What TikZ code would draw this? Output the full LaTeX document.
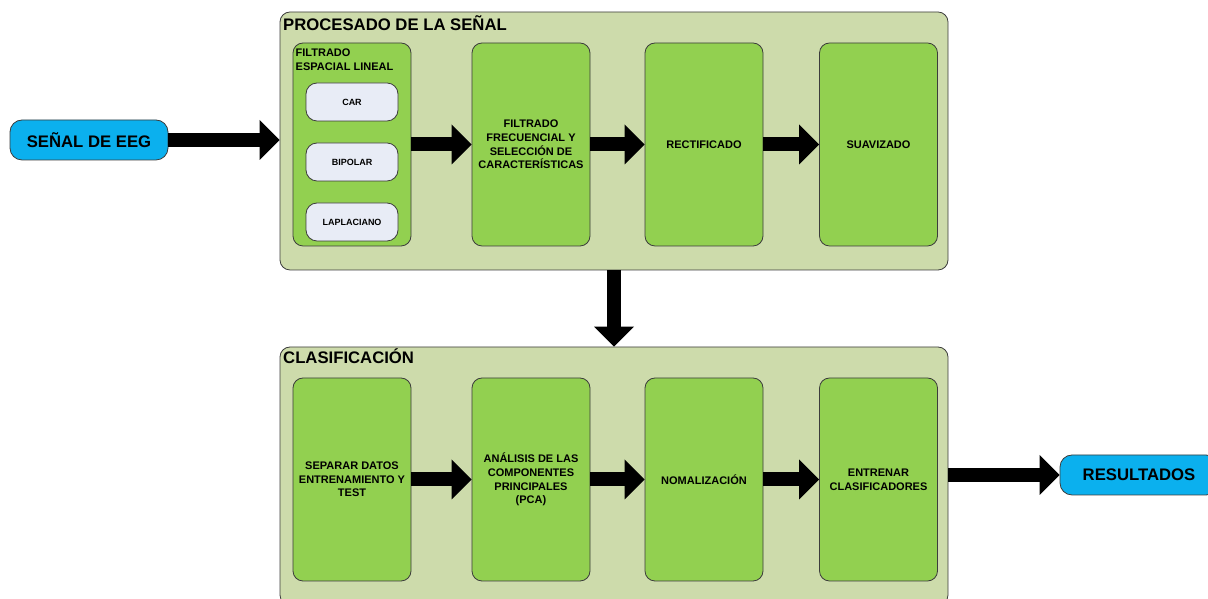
\documentclass[tikz,border=0pt]{standalone}
\usepackage{fontspec}
\setmainfont{Liberation Sans}
\usetikzlibrary{arrows.meta}
\definecolor{PanelFill}{HTML}{CDDBAB}
\definecolor{StageGreen}{HTML}{92D050}
\definecolor{IoBlue}{HTML}{0BB0EE}
\definecolor{SubFill}{HTML}{E8ECF6}
\definecolor{Edge}{HTML}{3C3C3C}
\begin{document}
\begin{tikzpicture}[x=1pt,y=1pt,
  panel/.style={draw=Edge,fill=PanelFill,line width=.8pt,rounded corners=10pt,minimum width=668pt,minimum height=258pt,inner sep=0pt},
  stage/.style={draw=Edge,fill=StageGreen,line width=.8pt,rounded corners=10pt,minimum width=118pt,minimum height=203pt,inner sep=2pt,align=center,font=\fontsize{11}{13.7}\selectfont\bfseries},
  sub/.style={draw=Edge,fill=SubFill,line width=.8pt,rounded corners=11pt,minimum width=92pt,minimum height=38pt,inner sep=1pt,font=\fontsize{9}{11}\selectfont\bfseries},
  io/.style={draw=Edge,fill=IoBlue,line width=.8pt,rounded corners=12pt,minimum width=158pt,minimum height=40pt,inner sep=1pt,font=\fontsize{16.7}{20}\selectfont\bfseries},
  heading/.style={anchor=base west,inner sep=0pt,font=\fontsize{16.7}{20}\selectfont\bfseries},
  flow/.style={line width=14pt,-{Triangle[length=20pt,width=40pt,line width=0pt]}}]
\useasboundingbox (0,0) rectangle (1208,599);
% panels
\node[panel] (proc) at (614,458) {};
\node[panel] (clas) at (614,123) {};
\node[heading] (proctitle) at (283,568) {PROCESADO DE LA SEÑAL};
\node[heading] (clastitle) at (283,235) {CLASIFICACIÓN};
% signal processing stages
\node[stage] (fesp) at (352,454.5) {};
\node[anchor=north west,inner sep=0pt,align=left,font=\fontsize{11}{14}\selectfont\bfseries] (fesplabel) at (295.5,550) {FILTRADO\\ESPACIAL LINEAL};
\node[sub] (car) at (352,497) {CAR};
\node[sub] (bip) at (352,437) {BIPOLAR};
\node[sub] (lap) at (352,377) {LAPLACIANO};
\node[stage] (ffrec) at (531,454.5) {FILTRADO\\FRECUENCIAL Y\\SELECCIÓN DE\\CARACTERÍSTICAS};
\node[stage] (rect) at (704,454.5) {RECTIFICADO};
\node[stage] (suav) at (878.5,454.5) {SUAVIZADO};
% classification stages
\node[stage] (sep) at (352,119.5) {SEPARAR DATOS\\ENTRENAMIENTO Y\\TEST};
\node[stage] (pca) at (531,119.5) {ANÁLISIS DE LAS\\COMPONENTES\\PRINCIPALES\\(PCA)};
\node[stage] (norm) at (704,119.5) {NOMALIZACIÓN};
\node[stage] (train) at (878.5,119.5) {ENTRENAR\\CLASIFICADORES};
% input / output
\node[io] (eeg) at (89,459) {SEÑAL DE EEG};
\node[io] (res) at (1139,124) {RESULTADOS};
% arrows
\draw[flow] (eeg.east) -- (eeg.east -| proc.west);
\draw[flow] (fesp) -- (ffrec);
\draw[flow] (ffrec) -- (rect);
\draw[flow] (rect) -- (suav);
\draw[flow] (proc.south) -- (clas.north);
\draw[flow] (sep) -- (pca);
\draw[flow] (pca) -- (norm);
\draw[flow] (norm) -- (train);
\draw[flow] (res.west -| clas.east) -- (res.west);
\end{tikzpicture}
\end{document}
